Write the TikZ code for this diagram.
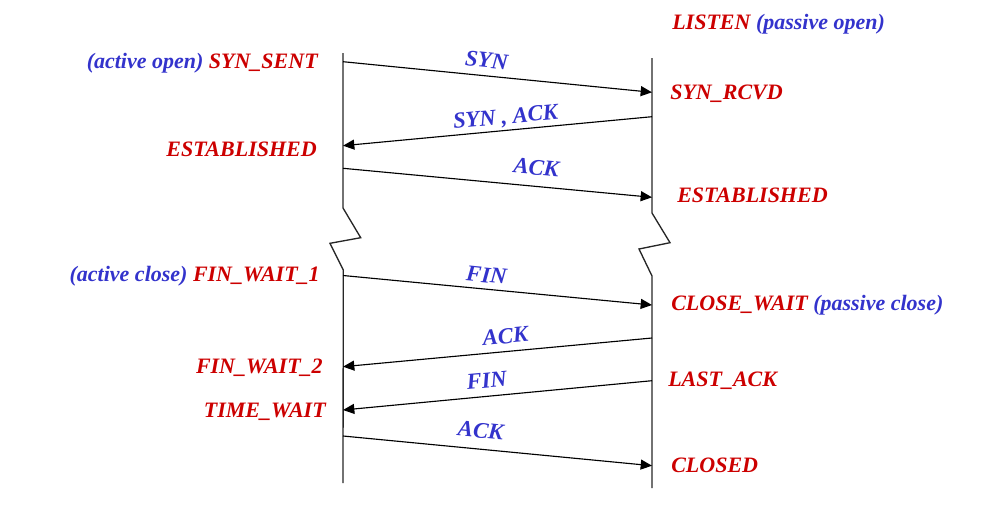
\documentclass[tikz,border=0pt]{standalone}
\usepackage{fontspec}
\setmainfont{Liberation Serif}
\usetikzlibrary{arrows.meta}
\definecolor{stred}{RGB}{204,0,0}
\definecolor{stblue}{RGB}{51,51,204}
\tikzset{
  lifeline/.style={draw=black!85, line width=1pt, line join=miter},
  msg/.style={draw=black, line width=0.85pt, -{Triangle[length=8.5pt,width=7.5pt]}},
  msglabel/.style={sloped, inner sep=0pt, text depth=0pt, text=stblue,
    font=\fontsize{17}{20}\selectfont\bfseries\itshape},
  statelbl/.style={inner sep=0pt, text=stred, font=\fontsize{16.5}{19}\selectfont\bfseries\itshape},
}
\begin{document}
\begin{tikzpicture}[x=0.75pt, y=-0.75pt]
\useasboundingbox (0,0) rectangle (995,514);

% lifelines
\draw[lifeline] (343,53) -- (343,208) -- (360.7,237.7) -- (330,243.3) -- (343.3,270) -- (343,483);
\draw[lifeline] (652,58) -- (652,213) -- (670,242.7) -- (639,249) -- (652,276) -- (652,488);

% endpoints
\coordinate (a1) at (343,61.7);  \coordinate (b1) at (652,92.3);
\coordinate (b2) at (652,116.7); \coordinate (a2) at (343,145.7);
\coordinate (a3) at (343,168.3); \coordinate (b3) at (652,197.3);
\coordinate (a4) at (343,275.5); \coordinate (b4) at (652,305);
\coordinate (b5) at (652,338);   \coordinate (a5) at (343,366.7);
\coordinate (b6) at (652,380.7); \coordinate (a6) at (343,410);
\coordinate (a7) at (343,436);   \coordinate (b7) at (652,465.7);

% messages
\draw[msg] (a1) -- node[msglabel, pos=0.46, above=5.6pt] {SYN} (b1);
\draw[msg] (b2) -- node[msglabel, pos=0.47, above=4.5pt] {SYN , ACK} (a2);
\draw[msg] (a3) -- node[msglabel, pos=0.62, above=8pt] {ACK} (b3);
\draw[msg] (a4) -- node[msglabel, pos=0.46, above=4.5pt] {FIN} (b4);
\draw[msg] (b5) -- node[msglabel, pos=0.47, above=5.6pt] {ACK} (a5);
\draw[msg] (b6) -- node[msglabel, pos=0.53, above=6pt] {FIN} (a6);
\draw[msg] (a7) -- node[msglabel, pos=0.44, above=8pt] {ACK} (b7);

% state labels, left side
\node[statelbl, anchor=base east] (ssent) at (318,68.3) {\textcolor{stblue}{(active open)} SYN\_SENT};
\node[statelbl, anchor=base east] (estl) at (317,156.5) {ESTABLISHED};
\node[statelbl, anchor=base east] (fw1) at (320,281) {\textcolor{stblue}{(active close)} FIN\_WAIT\_1};
\node[statelbl, anchor=base east] (fw2) at (323,373.3) {FIN\_WAIT\_2};
\node[statelbl, anchor=base east] (tw) at (326,417.3) {TIME\_WAIT};

% state labels, right side
\node[statelbl, anchor=base west] (listen) at (672,29) {LISTEN \textcolor{stblue}{(passive open)}};
\node[statelbl, anchor=base west] (srcvd) at (670,99.3) {SYN\_RCVD};
\node[statelbl, anchor=base west] (estr) at (677,202.7) {ESTABLISHED};
\node[statelbl, anchor=base west] (cw) at (671,310.7) {CLOSE\_WAIT \textcolor{stblue}{(passive close)}};
\node[statelbl, anchor=base west] (lack) at (668,386) {LAST\_ACK};
\node[statelbl, anchor=base west] (closed) at (671,472.7) {CLOSED};
\end{tikzpicture}
\end{document}
